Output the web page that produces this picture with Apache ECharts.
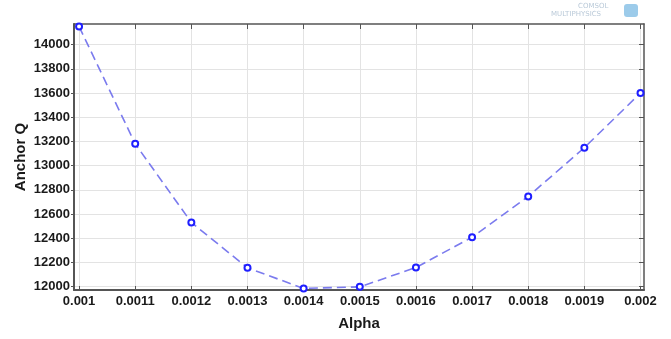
<!DOCTYPE html>
<html>
<head>
<meta charset="utf-8">
<script src="https://cdn.jsdelivr.net/npm/echarts@6/dist/echarts.min.js"></script>
<style>
  html, body { margin: 0; padding: 0; background: #fff; }
  #chart { width: 671px; height: 339px; }
</style>
</head>
<body>
<div id="chart"></div>
<script>
// values
const alpha = [0.001, 0.0011, 0.0012, 0.0013, 0.0014, 0.0015, 0.0016, 0.0017, 0.0018, 0.0019, 0.002];
const anchorQ = [14150, 13180, 12530, 12155, 11985, 11998, 12158, 12408, 12745, 13148, 13600];
const xTicks = [0.001, 0.0011, 0.0012, 0.0013, 0.0014, 0.0015, 0.0016, 0.0017, 0.0018, 0.0019, 0.002];
const yTicks = [12000, 12200, 12400, 12600, 12800, 13000, 13200, 13400, 13600, 13800, 14000];

const chart = echarts.init(document.getElementById('chart'));

const frameColor = '#555';
const labelFont = {
  color: '#1a1a1a',
  fontFamily: 'Liberation Sans, Arial, sans-serif',
  fontWeight: 'bold',
  fontSize: 13
};

const option = {
  backgroundColor: '#fff',
  animation: false,
  grid: {
    left: 74,
    right: 27,
    top: 24,
    bottom: 49,
    containLabel: false,
    outerBoundsMode: 'none'
  },
  graphic: [
    {
      type: 'text',
      left: 578,
      top: 3,
      style: {
        text: 'COMSOL',
        fill: '#b9c9d8',
        font: '7px DejaVu Sans, sans-serif'
      }
    },
    {
      type: 'text',
      left: 551,
      top: 11,
      style: {
        text: 'MULTIPHYSICS',
        fill: '#b9c9d8',
        font: '7px DejaVu Sans, sans-serif'
      }
    },
    {
      type: 'rect',
      left: 624,
      top: 4,
      shape: { width: 14, height: 13, r: 3 },
      style: { fill: '#9ccbea' }
    }
  ],
  xAxis: [
    {
      type: 'value',
      position: 'bottom',
      min: 0.000991,
      max: 0.0020062,
      name: 'Alpha',
      nameLocation: 'middle',
      nameGap: 26,
      nameMoveOverlap: false,
      nameTextStyle: {
        color: '#1a1a1a',
        fontFamily: 'Liberation Sans, Arial, sans-serif',
        fontWeight: 'bold',
        fontSize: 15
      },
      axisLine: { onZero: false, lineStyle: { color: frameColor, width: 2 } },
      axisTick: { inside: true, length: 4, customValues: xTicks, lineStyle: { color: frameColor } },
      axisLabel: Object.assign({
        margin: 5,
        customValues: xTicks,
        formatter: v => String(+v.toFixed(4))
      }, labelFont),
      splitLine: { show: true, lineStyle: { color: '#e3e3e3', width: 1 } }
    },
    {
      type: 'value',
      position: 'top',
      min: 0.000991,
      max: 0.0020062,
      axisLine: { onZero: false, lineStyle: { color: frameColor, width: 1.5 } },
      axisTick: { inside: true, length: 5, customValues: xTicks, lineStyle: { color: frameColor } },
      axisLabel: { show: false },
      splitLine: { show: false }
    }
  ],
  yAxis: [
    {
      type: 'value',
      position: 'left',
      min: 11972,
      max: 14170,
      name: 'Anchor Q',
      nameLocation: 'middle',
      nameGap: 46,
      nameMoveOverlap: false,
      nameTextStyle: {
        color: '#1a1a1a',
        fontFamily: 'Liberation Sans, Arial, sans-serif',
        fontWeight: 'bold',
        fontSize: 15
      },
      axisLine: { show: true, onZero: false, lineStyle: { color: frameColor, width: 2 } },
      axisTick: { show: true, inside: false, length: 3, customValues: yTicks, lineStyle: { color: frameColor } },
      axisLabel: Object.assign({
        margin: 4,
        customValues: yTicks,
        formatter: v => String(v)
      }, labelFont),
      splitLine: { show: true, lineStyle: { color: '#e3e3e3', width: 1 } }
    },
    {
      type: 'value',
      position: 'right',
      min: 11972,
      max: 14170,
      axisLine: { show: true, onZero: false, lineStyle: { color: frameColor, width: 1.5 } },
      axisTick: { show: true, inside: true, length: 5, customValues: yTicks, lineStyle: { color: frameColor } },
      axisLabel: { show: false },
      splitLine: { show: false }
    }
  ],
  series: [
    {
      type: 'line',
      data: alpha.map((a, i) => [a, anchorQ[i]]),
      symbol: 'circle',
      symbolSize: 6,
      showSymbol: true,
      lineStyle: {
        color: '#7b7bee',
        width: 1.6,
        type: [9, 5]
      },
      itemStyle: {
        color: '#ffffff',
        borderColor: '#1f1fff',
        borderWidth: 2
      },
      z: 5
    }
  ]
};

chart.setOption(option);
</script>
</body>
</html>
